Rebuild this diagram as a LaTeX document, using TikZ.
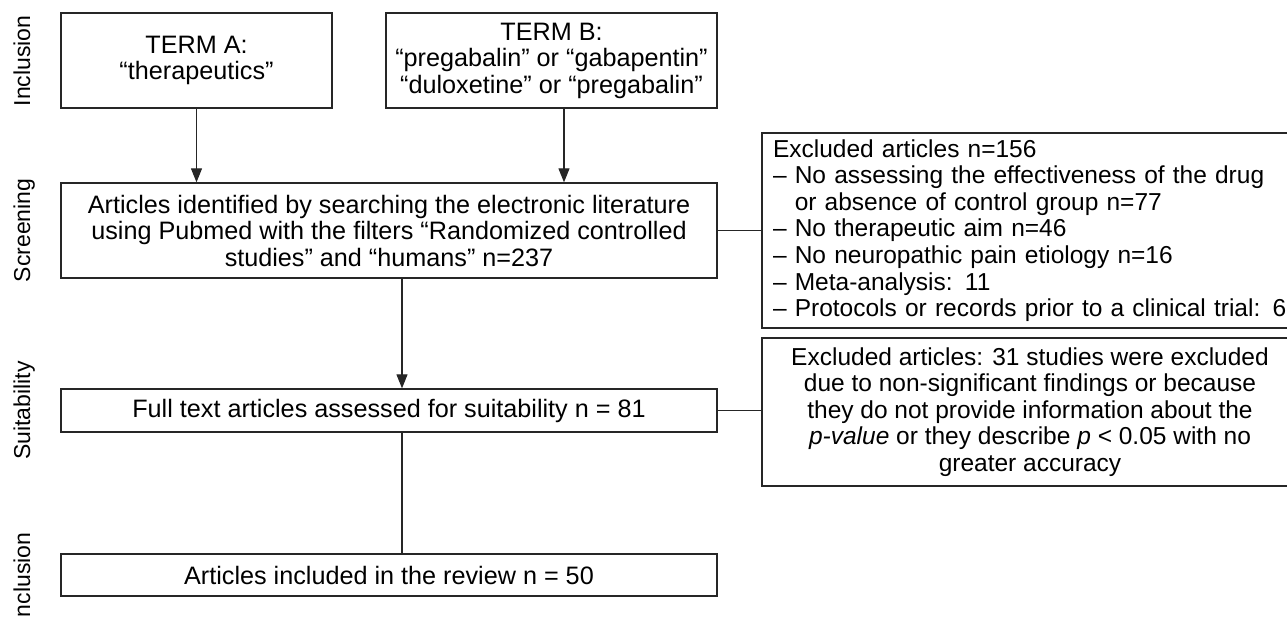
\documentclass[tikz,border=0pt]{standalone}
\usepackage{fontspec}
\setmainfont{Liberation Sans}
\usetikzlibrary{arrows.meta,calc}
\begin{document}
\begin{tikzpicture}[x=1pt,y=-1pt,
  box/.style={draw=black!85, line width=1.3pt, inner sep=0pt, align=center, font=\fontsize{25.2}{26.5}\selectfont},
  xbox/.style={box, font=\fontsize{24.5}{26.6}\selectfont},
  phase/.style={rotate=90, anchor=base, inner sep=0pt, font=\fontsize{23}{26}\selectfont},
  conn/.style={draw=black!85, line width=1.1pt},
  arr/.style={conn, -{Triangle[length=14pt,width=11pt]}}]
\useasboundingbox (0,0) rectangle (1287,618);
% phase labels
\node[phase] (l1) at (30,61) {Inclusion};
\node[phase] (l2) at (30,230.5) {Screening};
\node[phase] (l3) at (30,410.5) {Suitability};
\node[phase] (l4) at (30,578) {Inclusion};
% main boxes
\node[box, minimum width=271pt, minimum height=95pt] (A) at (196.5,60.5) {TERM A:\\“therapeutics”};
\node[box, minimum width=331pt, minimum height=95pt] (B) at (551.5,60.5) {TERM B:\\“pregabalin” or “gabapentin”\\“duloxetine” or “pregabalin”};
\node[box, minimum width=656pt, minimum height=95pt] (S) at (389,230.5) {Articles identified by searching the electronic literature\\using Pubmed with the filters “Randomized controlled\\studies” and “humans” n=237};
\node[box, minimum width=656pt, minimum height=43pt] (F) at (389,410.5) {Full text articles assessed for suitability n = 81};
\node[box, minimum width=656pt, minimum height=42pt] (R) at (389,575) {Articles included in the review n = 50};
% exclusion boxes
\node[xbox, minimum width=536pt, minimum height=195pt, align=left, text width=514pt] (E1) at (1030,230.5) {Excluded articles n=156\\
– No assessing the effectiveness of the drug\\
\phantom{– }or absence of control group n=77\\
– No therapeutic aim n=46\\
– No neuropathic pain etiology n=16\\
– Meta-analysis: 11\\
– Protocols or records prior to a clinical trial: 6};
\node[xbox, minimum width=536pt, minimum height=148pt] (E2) at (1030,412) {Excluded articles: 31 studies were excluded\\
due to non-significant findings or because\\
they do not provide information about the\\
\textit{p-value} or they describe \textit{p} < 0.05 with no\\
greater accuracy};
% connectors
\draw[arr] (A.south) -- (A.south |- S.north);
\draw[arr] ([xshift=12.5pt]B.south) -- ([xshift=12.5pt]B.south |- S.north);
\draw[arr] ([xshift=13pt]S.south) -- ([xshift=13pt]S.south |- F.north);
\draw[conn] ([xshift=13pt]F.south) -- ([xshift=13pt]F.south |- R.north);
\draw[conn] (S.east) -- (S.east -| E1.west);
\draw[conn] (F.east) -- (F.east -| E2.west);
\end{tikzpicture}
\end{document}
